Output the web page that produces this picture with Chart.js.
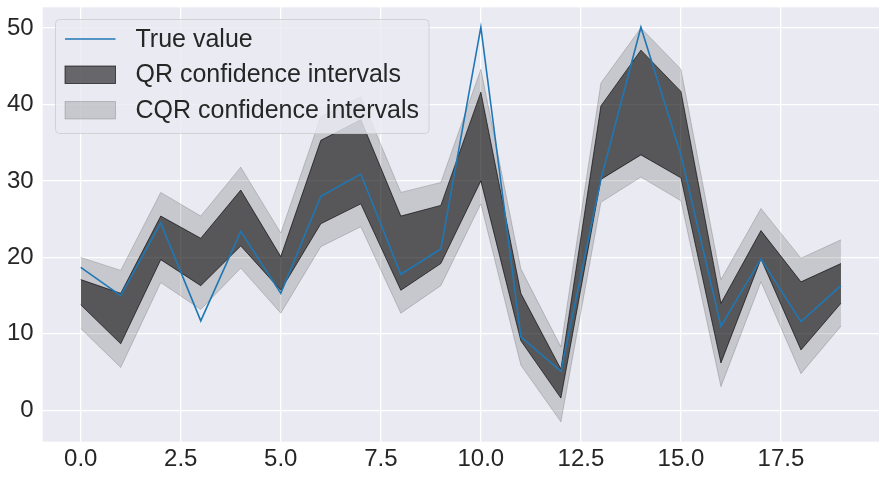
<!DOCTYPE html>
<html>
<head>
<meta charset="utf-8">
<script src="https://cdn.jsdelivr.net/npm/chart.js@4"></script>
<style>
  body { margin: 0; background: #fff; }
  #wrap { width: 886px; height: 479px; position: relative; }
</style>
</head>
<body>
<div id="wrap"><canvas id="chart"></canvas></div>
<script>
// values
const xs = [0, 1, 2, 3, 4, 5, 6, 7, 8, 9, 10, 11, 12, 13, 14, 15, 16, 17, 18, 19];
const trueValue = [18.7, 15.0, 24.5, 11.7, 23.4, 15.3, 28.0, 30.9, 17.8, 21.1, 50.1, 9.6, 5.1, 30.2, 50.1, 33.4, 11.0, 19.8, 11.6, 16.3];
const qrUpper = [17.1, 15.3, 25.4, 22.5, 28.8, 20.1, 35.3, 38.0, 25.4, 26.8, 41.6, 15.3, 5.4, 39.8, 47.1, 41.7, 14.0, 23.5, 16.8, 19.2];
const qrLower = [13.8, 8.7, 19.7, 16.3, 21.5, 15.7, 24.4, 27.0, 15.7, 19.2, 30.0, 9.1, 1.6, 30.2, 33.4, 30.4, 6.2, 19.8, 7.9, 14.0];
const cqrUpper = [20.0, 18.3, 28.5, 25.4, 31.8, 23.2, 38.4, 41.0, 28.5, 29.8, 44.6, 18.5, 8.3, 42.8, 50.0, 44.6, 17.1, 26.4, 19.9, 22.3];
const cqrLower = [10.7, 5.6, 16.7, 13.2, 18.6, 12.7, 21.4, 24.0, 12.7, 16.3, 27.0, 5.9, -1.5, 27.2, 30.5, 27.4, 3.1, 16.8, 4.8, 11.0];
const xTicks = [0, 2.5, 5, 7.5, 10, 12.5, 15, 17.5];
const yTicks = [0, 10, 20, 30, 40, 50];
const legendLabels = ["True value", "QR confidence intervals", "CQR confidence intervals"];

const pts = (ys) => xs.map((x, i) => ({ x: x, y: ys[i] }));
const FONT = "'Liberation Sans', Arial, sans-serif";
const TEXT = "#262626";
const QR_FILL = "rgba(0,0,0,0.56)";
const QR_EDGE = "rgba(0,0,0,0.62)";
const CQR_FILL = "rgba(0,0,0,0.15)";
const CQR_EDGE = "rgba(0,0,0,0.17)";

// matplotlib-like legend drawn on top of everything
const boxLegend = {
  id: "boxLegend",
  afterDraw(chart) {
    const ctx = chart.ctx;
    const x0 = 55.5, y0 = 19.5, w = 373.5, h = 114;
    ctx.save();
    ctx.beginPath();
    ctx.roundRect(x0, y0, w, h, 4);
    ctx.fillStyle = "rgba(234,234,242,0.8)";
    ctx.fill();
    ctx.strokeStyle = "rgba(204,204,204,0.8)";
    ctx.lineWidth = 1;
    ctx.stroke();

    const rows = [39, 74.5, 110];
    // line handle
    ctx.beginPath();
    ctx.moveTo(65, rows[0]);
    ctx.lineTo(115.5, rows[0]);
    ctx.strokeStyle = "#1f77b4";
    ctx.lineWidth = 1.6;
    ctx.stroke();
    // patches
    ctx.lineWidth = 1;
    ctx.fillStyle = QR_FILL;
    ctx.fillRect(65, rows[1] - 8.5, 50.5, 17.5);
    ctx.strokeStyle = QR_EDGE;
    ctx.strokeRect(65, rows[1] - 8.5, 50.5, 17.5);
    ctx.fillStyle = CQR_FILL;
    ctx.fillRect(65, rows[2] - 8.5, 50.5, 17.5);
    ctx.strokeStyle = CQR_EDGE;
    ctx.strokeRect(65, rows[2] - 8.5, 50.5, 17.5);

    ctx.fillStyle = TEXT;
    ctx.font = "25px " + FONT;
    ctx.textBaseline = "middle";
    ctx.textAlign = "left";
    legendLabels.forEach((t, i) => ctx.fillText(t, 135.5, rows[i] + 1));
    ctx.restore();
  }
};

new Chart(document.getElementById("chart"), {
  type: "line",
  data: {
    datasets: [
      { label: legendLabels[0], data: pts(trueValue), borderColor: "#1f77b4", borderWidth: 1.6, fill: false, order: 0 },
      { label: "qr up", data: pts(qrUpper), borderColor: QR_EDGE, borderWidth: 1, backgroundColor: QR_FILL, fill: "+1", order: 1 },
      { label: "qr low", data: pts(qrLower), borderColor: QR_EDGE, borderWidth: 1, fill: false, order: 1 },
      { label: "cqr up", data: pts(cqrUpper), borderColor: CQR_EDGE, borderWidth: 1, backgroundColor: CQR_FILL, fill: "+1", order: 2 },
      { label: "cqr low", data: pts(cqrLower), borderColor: CQR_EDGE, borderWidth: 1, fill: false, order: 2 }
    ]
  },
  options: {
    responsive: true,
    maintainAspectRatio: false,
    animation: false,
    elements: { point: { radius: 0 }, line: { tension: 0 } },
    layout: { padding: { left: 0, top: 7.3, right: 7, bottom: 0 } },
    plugins: { legend: { display: false }, tooltip: { enabled: false } },
    scales: {
      x: {
        type: "linear",
        min: -0.95,
        max: 19.95,
        afterBuildTicks: (s) => { s.ticks = xTicks.map(v => ({ value: v })); },
        afterFit: (s) => { s.height = 37.3; s.paddingLeft = 0; s.paddingRight = 0; },
        grid: { color: "#ffffff", lineWidth: 1.3, drawTicks: false },
        border: { display: false },
        ticks: {
          padding: 3,
          color: TEXT,
          font: { family: FONT, size: 24 },
          callback: (v) => Number(v).toFixed(1)
        }
      },
      y: {
        min: -4.1,
        max: 52.7,
        afterBuildTicks: (s) => { s.ticks = yTicks.map(v => ({ value: v })); },
        afterFit: (s) => { s.width = 42.7; s.paddingTop = 0; s.paddingBottom = 0; },
        grid: { color: "#ffffff", lineWidth: 1.3, drawTicks: false },
        border: { display: false },
        ticks: {
          padding: 9,
          color: TEXT,
          font: { family: FONT, size: 24 },
          callback: (v) => String(v)
        }
      }
    }
  },
  plugins: [
    {
      id: "bg",
      beforeDraw(chart) {
        const a = chart.chartArea, ctx = chart.ctx;
        ctx.save();
        ctx.fillStyle = "#eaeaf2";
        ctx.fillRect(a.left, a.top, a.right - a.left, a.bottom - a.top);
        ctx.restore();
      }
    },
    boxLegend
  ]
});
</script>
</body>
</html>
